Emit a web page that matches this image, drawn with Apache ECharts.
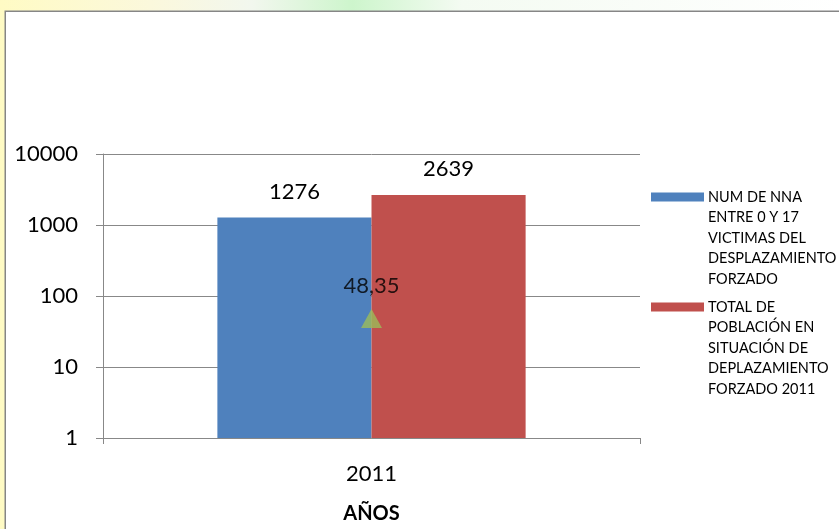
<!DOCTYPE html>
<html>
<head>
<meta charset="utf-8">
<script src="https://cdn.jsdelivr.net/npm/echarts@6/dist/echarts.min.js"></script>
<style>
html,body{margin:0;padding:0;width:839px;height:529px;overflow:hidden;background:#fff;}
#c{width:839px;height:529px;}
</style>
</head>
<body>
<div id="c"></div>
<script>
const categories = ['2011'];
const seriesNames = [
  'NUM DE NNA\nENTRE 0 Y 17\nVICTIMAS DEL\nDESPLAZAMIENTO\nFORZADO',
  'TOTAL DE\nPOBLACIÓN EN\nSITUACIÓN DE\nDEPLAZAMIENTO\nFORZADO 2011'
];
const nnaValues = [1276];
const totalValues = [2639];
const ratioValues = [48.35];
const yMin = 1;
const yMax = 10000;
const seriesColors = ['#4F81BD', '#C0504D', '#9BBB59'];
const axisTitle = 'AÑOS';

const chart = echarts.init(document.getElementById('c'), null, {renderer: 'canvas', width: 839, height: 529});
const FONT = 'Lato';
const gridC = '#888888';

function legendGraphics() {
  const items = [];
  const starts = [197, 307];
  seriesNames.forEach((name, i) => {
    items.push({
      type: 'rect', left: 651, top: starts[i] - 4.5,
      shape: {width: 53, height: 9},
      style: {fill: seriesColors[i]}, z: 10
    });
    items.push({
      type: 'text', left: 708, top: starts[i] - 10.25,
      style: {text: name, font: '14.5px ' + FONT, fill: '#000', lineHeight: 20.5},
      z: 10
    });
  });
  return items;
}

const option = {
  backgroundColor: {
    type: 'linear', x: 0, y: 0, x2: 1, y2: 0,
    colorStops: [
      {offset: 0, color: '#FFFBC4'},
      {offset: 0.18, color: '#FBF8DC'},
      {offset: 0.3, color: '#F2F7EE'},
      {offset: 0.42, color: '#CDF5CC'},
      {offset: 0.55, color: '#F4FBF2'},
      {offset: 1, color: '#FFFFFF'}
    ]
  },
  textStyle: {fontFamily: FONT},
  animation: false,
  graphic: [
    {
      type: 'rect', left: 4.5, top: 10.5, z: -10,
      shape: {x: 0, y: 0, width: 900, height: 600},
      style: {fill: '#FFFFFF', stroke: '#868686', lineWidth: 1.5}
    }
  ].concat(legendGraphics()),
  grid: {left: 103, width: 537, top: 154, height: 287, containLabel: false},
  xAxis: {
    type: 'category',
    data: categories,
    axisLine: {show: true, lineStyle: {color: gridC, width: 1}},
    axisTick: {show: true, length: 6, lineStyle: {color: gridC}},
    axisLabel: {fontSize: 22, color: '#000', margin: 25, fontFamily: FONT},
    name: axisTitle,
    nameLocation: 'middle',
    nameGap: 66,
    nameTextStyle: {fontSize: 20, fontWeight: 'bold', color: '#000', fontFamily: FONT}
  },
  yAxis: {
    type: 'log',
    logBase: 10,
    min: yMin,
    max: yMax,
    axisLine: {show: true, lineStyle: {color: gridC, width: 1}},
    axisTick: {show: true, length: 7, lineStyle: {color: gridC}},
    axisLabel: {fontSize: 22, color: '#000', margin: 25, fontFamily: FONT, formatter: v => String(v)},
    splitLine: {show: true, lineStyle: {color: gridC, width: 1}}
  },
  series: [
    {
      name: seriesNames[0], type: 'bar', data: nnaValues,
      itemStyle: {color: seriesColors[0]},
      barGap: '0%', barCategoryGap: '42.6%',
      label: {show: true, position: 'top', distance: 15, fontSize: 22, color: '#000', fontFamily: FONT}
    },
    {
      name: seriesNames[1], type: 'bar', data: totalValues,
      itemStyle: {color: seriesColors[1]},
      barGap: '0%', barCategoryGap: '42.6%',
      label: {show: true, position: 'top', distance: 15, fontSize: 22, color: '#000', fontFamily: FONT}
    },
    {
      name: 'ratio', type: 'scatter', data: ratioValues,
      symbol: 'triangle', symbolSize: [21, 19],
      itemStyle: {color: seriesColors[2]},
      z: 5,
      label: {
        show: true, position: 'top', distance: 12, fontSize: 22, color: '#000', fontFamily: FONT,
        formatter: p => String(p.value).replace('.', ',')
      }
    }
  ]
};
chart.setOption(option);
</script>
</body>
</html>
